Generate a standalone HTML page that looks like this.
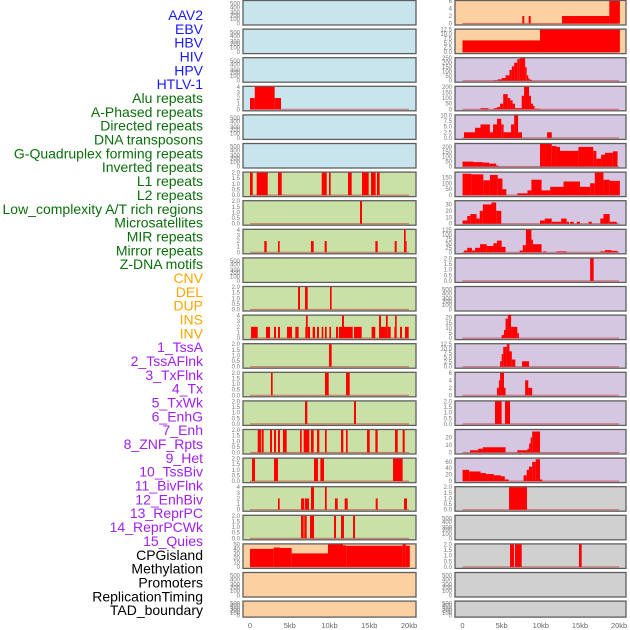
<!DOCTYPE html>
<html><head><meta charset="utf-8"><style>
body{margin:0;background:#fff;width:630px;height:630px;overflow:hidden}
svg{display:block}
</style></head><body>
<svg id="chart" width="630" height="630" xmlns="http://www.w3.org/2000/svg"></svg>
<script>
const labels=["AAV2","EBV","HBV","HIV","HPV","HTLV-1","Alu repeats","A-Phased repeats","Directed repeats","DNA transposons","G-Quadruplex forming repeats","Inverted repeats","L1 repeats","L2 repeats","Low_complexity A/T rich regions","Microsatellites","MIR repeats","Mirror repeats","Z-DNA motifs","CNV","DEL","DUP","INS","INV","1_TssA","2_TssAFlnk","3_TxFlnk","4_Tx","5_TxWk","6_EnhG","7_Enh","8_ZNF_Rpts","9_Het","10_TssBiv","11_BivFlnk","12_EnhBiv","13_ReprPC","14_ReprPCWk","15_Quies","CPGisland","Methylation","Promoters","ReplicationTiming","TAD_boundary"];
const labelGroups=[6,13,5,15,5];
const groupColors=["#1a1aff","#0b6e0b","#ffa500","#a020f0","#000000"];
const xTicks=[0,5,10,15,20];
const xTickLabels=["0","5kb","10kb","15kb","20kb"];
const leftColors=["b","b","b","b","b","b","g","g","g","g","g","g","g","g","g","g","g","g","g","o","o","o"];
const rightColors=["o","o","p","p","p","p","p","p","p","p","p","p","p","p","p","p","p","g2","g2","g2","g2","g2"];
const leftMax=[0,0,0,4,0,0,2,2,4,0,2,4,2,2,2,2,2,4,2,50,0,0];
const rightMax=[6,12.5,250,200,10,230,190,35,125,2,0,22,12.5,6,2,30,70,2,0,2,0,0];
const leftTicks=[null,null,null,[0,1,2,3,4],null,null,[0,0.5,1,1.5,2],[0,0.5,1,1.5,2],[0,1,2,3,4],null,[0,0.5,1,1.5,2],[0,1,2,3,4],[0,0.5,1,1.5,2],[0,0.5,1,1.5,2],[0,0.5,1,1.5,2],[0,0.5,1,1.5,2],[0,0.5,1,1.5,2],[0,1,2,3,4],[0,0.5,1,1.5,2],[0,10,20,30,40,50],null,null];
const rightTicks=[[0,2,4,6],[0,2.5,5,7.5,10,12.5],[0,50,100,150,200,250],[0,50,100,150,200],[0,2.5,5,7.5,10],[0,50,100,150,200],[0,50,100,150],[0,10,20,30],[0,25,50,75,100,125],[0,0.5,1,1.5,2],null,[0,5,10,15,20],[0,2.5,5,7.5,10,12.5],[0,2,4,6],[0,0.5,1,1.5,2],[0,10,20],[0,20,40,60],[0,0.5,1,1.5,2],null,[0,0.5,1,1.5,2],null,null];
const leftSegs=[[],[],[],
[[0,0.6,2],[0.6,3.1,4],[3.1,3.9,2]],
[],[],
[[0,0.34,2],[0.84,2.23,2],[3.52,3.99,2],[9.02,9.65,2],[9.94,10.15,2],[12.33,12.79,2],[14.09,14.93,2],[15.22,15.81,2],[15.97,16.31,2]],
[[13.84,14.09,2]],
[[1.8,2.1,2],[3.52,3.73,2],[7.67,8.01,2],[9.39,9.65,2],[15.77,16.06,2],[18.2,18.45,2],[19.37,19.58,4],[19.58,19.7,2]],
[],
[[6.04,6.29,2],[6.92,7.26,2],[10.06,10.27,2]],
[[0.13,0.97,2],[2.01,2.52,2],[3.02,3.27,2],[3.52,3.77,2],[4.65,5.28,2],[5.7,6.12,2],[6.96,7.04,2],[7.04,7.26,4],[7.26,7.55,2],[7.88,8.18,2],[8.43,8.68,2],[9.02,9.22,2],[9.43,9.65,2],[9.98,10.19,2],[10.82,11.07,2],[11.19,11.57,2],[11.57,11.82,4],[11.82,12.92,2],[13.08,14.05,2],[15.3,15.76,2],[16.23,16.48,4],[16.48,17.1,2],[17.1,17.32,4],[17.32,17.7,2],[18.16,18.25,2],[18.25,18.45,4],[18.87,19.12,2],[19.5,19.96,2]],
[[9.94,10.27,2]],
[[2.64,2.85,2],[9.43,9.9,2],[12.08,12.54,2]],
[[6.92,7.21,2],[13.08,13.33,2]],
[[0.97,1.38,2],[1.47,1.72,2],[2.52,2.77,2],[3.02,3.27,2],[3.52,3.77,2],[4.15,4.61,2],[6.29,6.5,2],[6.75,7.46,2],[7.67,8.01,2],[8.43,8.72,2],[9.43,9.65,2],[11.45,11.74,2],[12.08,12.29,2],[14.72,15.06,2],[15.77,16.06,2],[18.24,18.58,2],[19.2,19.46,2]],
[[0.25,0.63,2],[3.02,3.52,2],[8.05,8.55,2],[8.85,9.31,2],[17.99,19.2,2]],
[[3.52,3.73,2],[6.42,6.83,2],[6.92,7.42,2],[7.67,8.05,4],[9.43,9.65,4],[10.69,11.03,2],[11.91,12.29,2],[15.81,16.06,2],[19.37,19.75,2]],
[[6.42,6.75,2],[6.83,7.13,2],[7.55,8.05,2],[10.57,10.82,2],[11.45,11.82,2],[12.96,13.21,2]],
[[0,2.98,40],[2.98,3.77,43],[3.77,5.24,42],[5.24,9.81,30],[9.81,11.7,50],[11.7,12.1,48],[12.1,19.2,47],[19.2,19.6,50],[19.6,20.1,47]],
[],[]];
const rightSegs=[
[[7.64,7.89,2],[8.45,8.71,2],[12.71,18.75,2],[18.75,20.1,6]],
[[0,9.9,6.5],[9.9,20.1,12.5]],
[[4.0,4.5,5],[4.5,5.0,15],[5.0,5.5,30],[5.5,6.0,60],[6.0,6.3,120],[6.3,6.6,160],[6.6,7.0,200],[7.0,7.3,240],[7.3,8.0,250],[8.0,8.2,150],[8.2,8.4,60],[8.4,8.6,25],[8.6,8.9,10]],
[[2.3,3.3,10],[4.0,4.4,10],[4.4,4.8,20],[4.8,5.2,50],[5.2,5.77,135],[5.77,6.1,100],[6.1,6.4,80],[6.4,6.7,50],[6.7,7.56,10],[7.56,7.86,120],[7.86,8.5,200],[8.5,8.75,120],[8.75,9.0,50],[9.0,9.2,30],[9.2,9.9,5]],
[[0.19,1.6,2.5],[1.6,2.3,4.5],[2.3,3.5,6],[3.5,3.9,2.5],[3.9,4.4,6],[4.4,4.95,8.5],[4.95,5.25,6],[5.25,6.2,2.5],[6.2,6.6,6],[6.6,7.1,10],[7.1,7.6,2.5],[10.8,11.4,2.5]],
[[0,1.4,50],[1.4,2.6,45],[2.6,3.4,40],[3.4,4.3,30],[4.3,4.6,10],[9.9,11.4,230],[11.4,12.0,210],[12.0,12.45,200],[12.45,14.8,160],[14.8,16.7,200],[16.7,17.1,160],[17.1,17.7,80],[17.7,18.2,120],[18.2,19.2,140],[19.2,19.8,155]],
[[0,1.1,180],[1.1,2.66,175],[2.66,3.5,125],[3.5,4.5,170],[4.5,5.1,140],[5.1,5.6,50],[7.0,8.3,15],[8.3,8.8,40],[8.8,10.1,130],[10.1,11.2,40],[11.2,12.9,70],[12.9,15.0,115],[15.0,16.3,70],[16.3,16.9,100],[16.9,18.0,190],[18.0,18.8,130],[18.8,20.1,120]],
[[0,0.6,5],[0.6,1.0,12],[1.0,1.8,15],[1.8,2.2,8],[2.2,2.6,20],[2.6,3.7,30],[3.7,4.3,33],[4.3,4.95,20],[9.9,10.5,5],[10.5,11.4,8],[11.4,12.6,3],[12.6,13.3,8],[13.3,13.6,3],[13.75,14.2,3],[14.6,15.0,3],[16.1,16.5,3],[17.6,18.0,8],[18.0,18.8,15],[18.8,19.7,3]],
[[0.2,0.6,10],[0.6,1.2,25],[1.2,1.6,10],[1.6,2.24,25],[2.24,3.1,45],[3.1,3.95,35],[3.95,4.4,50],[4.4,5.0,65],[5.0,5.5,30],[7.3,7.7,10],[7.7,8.1,40],[8.1,8.8,125],[8.8,9.0,70],[9.0,10.1,45],[10.3,10.7,5],[12.0,13.3,5],[17.6,18.2,5],[18.2,19.0,12],[19.0,19.8,8]],
[[16.3,16.75,2]],
[],
[[5.0,5.3,3],[5.3,5.5,8],[5.5,5.8,19],[5.8,6.2,23],[6.2,7.0,11],[7.0,7.2,5]],
[[4.8,5.0,3],[5.0,5.2,7],[5.2,5.65,11],[5.65,6.0,12.5],[6.0,6.3,8.5],[6.3,6.75,4],[7.6,8.5,3]],
[[4.4,4.65,2],[4.65,4.8,4],[4.8,5.3,6],[5.3,5.5,2],[8.0,8.4,4],[8.4,8.9,2]],
[[4.15,5.0,2],[5.43,6.07,2]],
[[0.96,2.0,3],[2.0,2.6,5],[2.6,5.5,7],[7.0,8.3,3],[8.3,8.5,5],[8.5,8.7,12],[8.7,8.9,20],[8.9,9.9,28]],
[[0,0.85,35],[0.85,2.3,30],[2.3,3.0,25],[3.0,4.0,22],[4.0,4.9,18],[4.9,5.4,15],[5.4,5.9,5],[7.8,8.2,18],[8.2,8.5,35],[8.5,8.9,45],[8.9,9.35,60],[9.35,9.9,68],[9.9,10.2,5]],
[[5.94,8.24,2]],
[],
[[6.07,6.58,2],[6.7,7.56,2],[14.88,15.22,2]],
[],[]];

const NS="http://www.w3.org/2000/svg";
const svg=document.getElementById('chart');
const fills={b:"#c8e4ec",g:"#c9e1a6",o:"#fdd0a1",p:"#d5c6e1",g2:"#d0d0d0"};
function mk(tag,attrs,parent){const e=document.createElementNS(NS,tag);for(const k in attrs)e.setAttribute(k,attrs[k]);(parent||svg).appendChild(e);return e;}

// labels
let li=0;
labelGroups.forEach((n,gi)=>{for(let j=0;j<n;j++){const t=mk('text',{x:203,y:15+li*13.84+5,'text-anchor':'end','font-family':'Liberation Sans, sans-serif','font-size':14,fill:groupColors[gi]});


t.textContent=labels[li];li++;}});

const cols=[{x0:243,x1:416,ox:250,sc:7.95,colors:leftColors,max:leftMax,ticks:leftTicks,segs:leftSegs,tx:240,name:'left'},
{x0:455,x1:626,ox:462.5,sc:7.83,colors:rightColors,max:rightMax,ticks:rightTicks,segs:rightSegs,tx:452,name:'right'}];
function fmt(v,ticks){const dec=ticks.some(t=>t%1!==0);return dec?v.toFixed(1):String(v);}
cols.forEach(c=>{
  const xs=kb=>c.ox+kb*c.sc;
  for(let i=0;i<22;i++){
    const top=0.5+i*28.6, h=(i===21?16:24.5), bot=top+h;
    const g=mk('g',{});
    
    
    const r=mk('rect',{x:c.x0,y:top,width:c.x1-c.x0,height:h,fill:fills[c.colors[i]],stroke:'#5e5e5e','stroke-width':1.3},g);
    
    
    const ymax=c.max[i];
    const ys=v=>bot-1.5-(v/ymax)*(h-2);
    let ticks=c.ticks[i];
    if(!ticks){ // empty panel: crowded 0..500 labels
      [0,100,200,300,400,500].forEach((v,k)=>{const fr=[0,0.2,0.36,0.48,0.72,0.88][k];
        const t=mk('text',{x:c.tx,y:bot-1.5-fr*(h-2)+2,'text-anchor':'end','font-family':'Liberation Sans, sans-serif','font-size':6,fill:'#777'},g);
        
        
        t.textContent=v;});
      continue;
    }
    ticks.forEach(v=>{const t=mk('text',{x:c.tx,y:ys(v)+2,'text-anchor':'end','font-family':'Liberation Sans, sans-serif','font-size':6,fill:'#777'},g);
      
      
      t.textContent=fmt(v,ticks);});
    const bl=mk('line',{x1:xs(0),x2:xs(20),y1:bot-1.5,y2:bot-1.5,stroke:'rgba(200,60,60,0.6)','stroke-width':1.2},g);
    
    
    c.segs[i].forEach(s=>{const b=mk('rect',{x:xs(s[0]),y:ys(s[2]),width:Math.max(0.8,xs(s[1])-xs(s[0])),height:bot-1.5-ys(s[2]),fill:'#ff0000'},g);
      
      });
  }
  xTicks.forEach((v,k)=>{const t=mk('text',{x:xs(v),y:628,'text-anchor':'middle','font-family':'Liberation Sans, sans-serif','font-size':7.5,fill:'#666'});
    
    
    t.textContent=xTickLabels[k];});
});
</script>
</body></html>
